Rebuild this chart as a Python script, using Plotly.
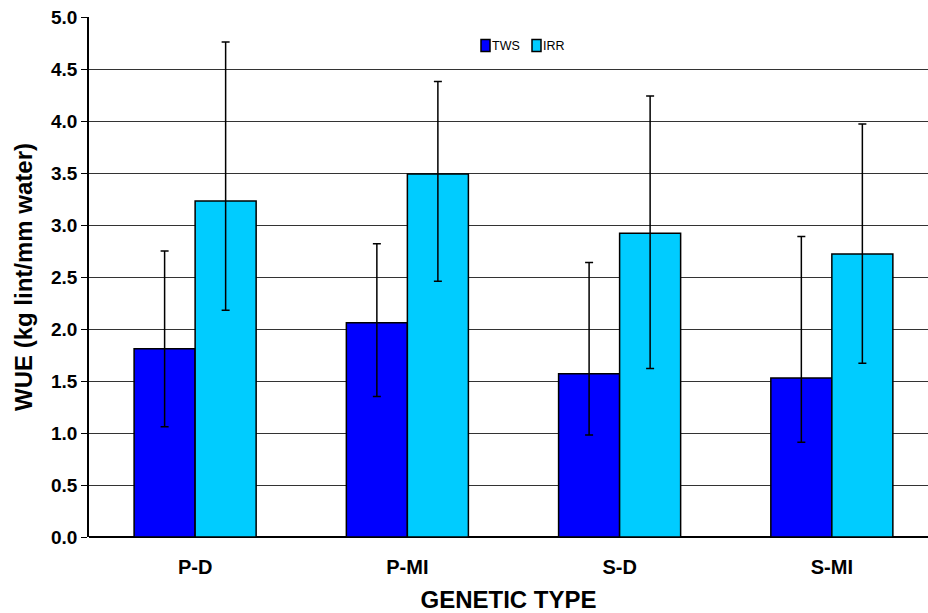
import plotly.graph_objects as go

categories = ["P-D", "P-MI", "S-D", "S-MI"]
series_names = ["TWS", "IRR"]
tws = [1.81, 2.06, 1.57, 1.53]
tws_hi = [2.75, 2.82, 2.64, 2.89]
tws_lo = [1.06, 1.35, 0.98, 0.91]
irr = [3.23, 3.49, 2.92, 2.72]
irr_hi = [4.76, 4.38, 4.24, 3.97]
irr_lo = [2.18, 2.46, 1.62, 1.67]
colors = ["#0000FF", "#00CCFF"]

W, H = 928, 613
ML, MR, MT, MB = 89, 0, 17, 76
PW, PH = W - ML - MR, H - MT - MB

def px_x(px):
    return (px - ML) / PW

def px_y(py):
    return (H - MB - py) / PH

def err(vals, hi, lo):
    return dict(type="data", symmetric=False,
                array=[h - v for h, v in zip(hi, vals)],
                arrayminus=[v - l for v, l in zip(vals, lo)],
                color="black", thickness=1.5, width=4)

fig = go.Figure()
fig.add_trace(go.Bar(x=categories, y=tws, name=series_names[0], showlegend=False,
                     marker=dict(color=colors[0], line=dict(color="black", width=1.5)),
                     error_y=err(tws, tws_hi, tws_lo)))
fig.add_trace(go.Bar(x=categories, y=irr, name=series_names[1], showlegend=False,
                     marker=dict(color=colors[1], line=dict(color="black", width=1.5)),
                     error_y=err(irr, irr_hi, irr_lo)))

# compact legend (symbol directly next to text)
legend_sym_x = [481, 532]
for name, col, sx in zip(series_names, colors, legend_sym_x):
    fig.add_shape(type="rect", xref="paper", yref="paper",
                  x0=px_x(sx), x1=px_x(sx + 9), y0=px_y(51.5), y1=px_y(39.5),
                  fillcolor=col, line=dict(color="black", width=1.5))
    fig.add_annotation(xref="paper", yref="paper", x=px_x(sx + 10), y=px_y(45.5),
                       text=name, showarrow=False, xanchor="left", yanchor="middle",
                       font=dict(size=12.5), borderpad=0)

fig.update_layout(
    width=W, height=H,
    margin=dict(l=ML, r=MR, t=MT, b=MB),
    paper_bgcolor="white", plot_bgcolor="white",
    barmode="group", bargap=0.425, bargroupgap=0,
    font=dict(family="Liberation Sans, Arial, sans-serif", color="black"),
    showlegend=False,
    xaxis=dict(range=[-0.5, 3.453], showgrid=False, ticks="",
               tickfont=dict(size=20, weight="bold"), ticklabelstandoff=16,
               title=dict(text="GENETIC TYPE", font=dict(size=24, weight="bold"), standoff=14),
               showline=False, zeroline=False),
    yaxis=dict(range=[0, 5], dtick=0.5, tickformat=".1f",
               showgrid=True, gridcolor="#333333", gridwidth=1,
               showline=True, linecolor="black", linewidth=1.5,
               ticks="outside", ticklen=6, tickcolor="black", tickwidth=1,
               tickfont=dict(size=19, weight="bold"),
               zeroline=True, zerolinecolor="black", zerolinewidth=1.5,
               title=dict(text="WUE (kg lint/mm water)", font=dict(size=24, weight="bold"), standoff=12)),
)

fig.write_html("out.html")
